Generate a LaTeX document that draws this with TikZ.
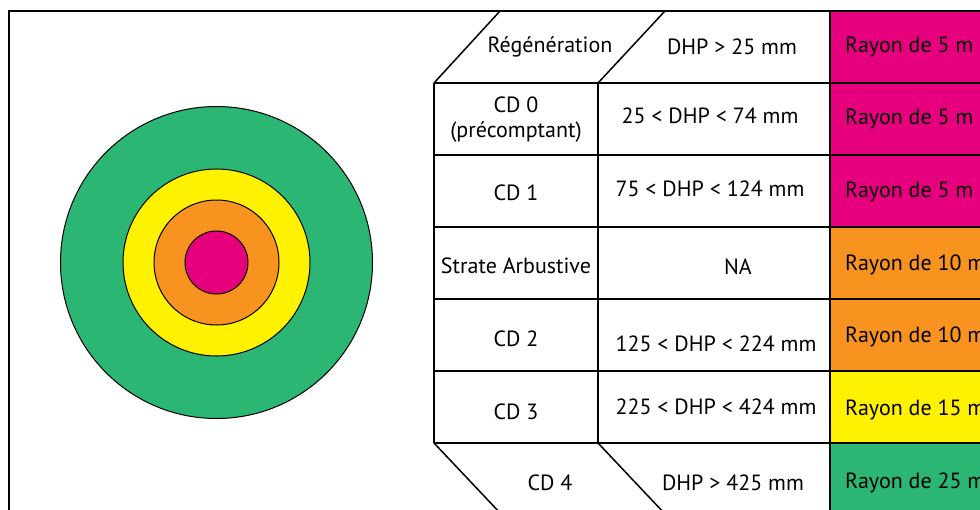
\documentclass[tikz,border=0pt]{standalone}
\usepackage{fontspec}
\setmainfont{PT Sans}
\usepackage{xcolor}
\usetikzlibrary{positioning}

\definecolor{rosePl}{HTML}{E6007E}
\definecolor{orangePl}{HTML}{F7931E}
\definecolor{jaunePl}{HTML}{FFF200}
\definecolor{vertPl}{HTML}{2BB673}

\begin{document}
\begin{tikzpicture}[
  x=1pt, y=-1pt,
  font=\fontsize{22}{25}\selectfont,
  grid/.style={draw=black, line width=1.5pt},
  ring/.style={draw=black, line width=1pt},
  cell/.style={align=center, inner sep=0pt, yshift=-2pt},
  rayon/.style={anchor=west, inner sep=0pt, yshift=-2pt},
]
\useasboundingbox (0,0) rectangle (980,509);
\clip (0,0) rectangle (980,509);

% Placette (cercles concentriques)
\filldraw[ring, fill=vertPl]   (216.5,262.5) circle (156pt);
\filldraw[ring, fill=jaunePl]  (216.5,262.5) circle (93.5pt);
\filldraw[ring, fill=orangePl] (216.5,262.5) circle (62.5pt);
\filldraw[ring, fill=rosePl]   (216.5,262.5) circle (31.5pt);

% Colonne des rayons
\fill[rosePl]   (830,11)  rectangle (990,227);
\fill[orangePl] (830,227) rectangle (990,371);
\fill[jaunePl]  (830,371) rectangle (990,443);
\fill[vertPl]   (830,443) rectangle (990,515);

% Cadre
\draw[grid] (9,515) -- (9,11) -- (990,11);

% Grille du tableau
\draw[grid] (434,83) -- (500,11);
\draw[grid] (598,83) -- (665,11);
\draw[grid] (830,11) -- (830,515);
\draw[grid] (434,83) -- (434,443);
\draw[grid] (598,83) -- (598,443);
\foreach \y in {83,155,227,299,371,443}
  \draw[grid] (434,\y) -- (990,\y);
\draw[grid] (434,443) -- (502,515);
\draw[grid] (598,443) -- (666,515);

% Classes
\node[cell] (regen) at (550,45)  {Régénération};
\node[cell] (cd0)   at (516,118) {CD 0\\(précomptant)};
\node[cell] (cd1)   at (516,191) {CD 1};
\node[cell] (arbu)  at (516,264) {Strate Arbustive};
\node[cell] (cd2)   at (516,337) {CD 2};
\node[cell] (cd3)   at (516,410) {CD 3};
\node[cell] (cd4)   at (550,481) {CD 4};

% Diametres
\node[cell] (dhpA) at (732,45)  {DHP > 25 mm};
\node[cell] (dhpB) at (710,114) {25 < DHP < 74 mm};
\node[cell] (dhpC) at (710,187) {75 < DHP < 124 mm};
\node[cell] (dhpD) at (738,265) {NA};
\node[cell] (dhpE) at (716,342) {125 < DHP < 224 mm};
\node[cell] (dhpF) at (716,405) {225 < DHP < 424 mm};
\node[cell] (dhpG) at (733,481) {DHP > 425 mm};

% Rayons
\node[rayon] (rA) at (845,45)  {Rayon de 5 m};
\node[rayon] (rB) at (845,117) {Rayon de 5 m};
\node[rayon] (rC) at (845,190) {Rayon de 5 m};
\node[rayon] (rD) at (845,263) {Rayon de 10 m};
\node[rayon] (rE) at (845,335) {Rayon de 10 m};
\node[rayon] (rF) at (845,408) {Rayon de 15 m};
\node[rayon] (rG) at (845,481) {Rayon de 25 m};

\end{tikzpicture}
\end{document}
